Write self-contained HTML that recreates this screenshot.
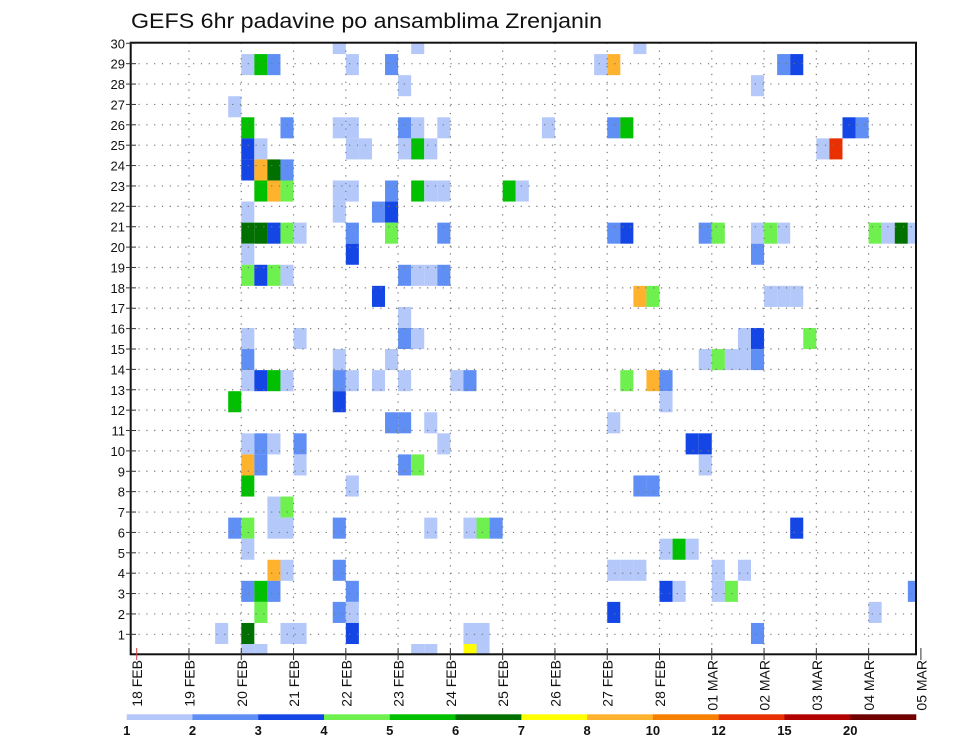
<!DOCTYPE html>
<html><head><meta charset="utf-8"><style>
html,body{margin:0;padding:0;background:#fff;}
svg{display:block;font-family:"Liberation Sans",sans-serif;}
</style></head><body>
<svg id="chart" width="960" height="742" viewBox="0 0 960 742" xmlns="http://www.w3.org/2000/svg">
<rect width="960" height="742" fill="#fff"/>
<text x="131" y="28" font-size="21" textLength="471" lengthAdjust="spacingAndGlyphs" fill="#111">GEFS 6hr padavine po ansamblima Zrenjanin</text>
<g id="cells"></g>
<g id="grid"></g>
<g id="axes"></g>
<g id="legend"></g>
</svg>
<script>
const memberIds = [29,28,27,26,25,24,23,22,21,20,19,18,17,16,15,14,13,12,11,10,9,8,7,6,5,4,3,2,1,0];
const stepsByMember = [
 [15,21,38],
 [8,9,10,16,19,35,36,49,50],
 [20,47],
 [7],
 [8,11,15,16,20,21,23,31,36,37,54,55],
 [8,9,16,17,20,21,22,52,53],
 [8,9,10,11],
 [9,10,11,15,16,19,21,22,23,28,29],
 [8,15,18,19],
 [8,9,10,11,12,16,19,23,36,37,43,44,47,48,49,56,57,58,59],
 [8,16,47],
 [8,9,10,11,20,21,22,23],
 [18,38,39,48,49,50],
 [20],
 [8,12,20,21,46,47,51],
 [8,15,19,43,44,45,46,47],
 [8,9,10,11,15,16,18,20,24,25,37,39,40],
 [7,15,40],
 [19,20,22,36],
 [8,9,10,12,23,42,43],
 [8,9,12,20,21,43],
 [8,16,38,39],
 [10,11],
 [7,8,10,11,15,22,25,26,27,50],
 [8,40,41,42],
 [10,11,15,36,37,38,44,46],
 [8,9,10,16,40,41,44,45,59],
 [9,15,16,36,56],
 [6,8,11,12,16,25,26,47],
 [8,9,21,22,25,26]
];
const valuesByMember = [
 [1.5,1.5,1.5],
 [1.5,5.5,2.5,1.5,2.5,1.5,9,2.5,3.5],
 [1.5,1.5],
 [1.5],
 [5.5,2.5,1.5,1.5,2.5,1.5,1.5,1.5,2.5,5.5,3.5,2.5],
 [3.5,1.5,1.5,1.5,1.5,5.5,1.5,1.5,13],
 [3.5,9,6.5,2.5],
 [5.5,9,4.5,1.5,1.5,2.5,5.5,1.5,1.5,5.5,1.5],
 [1.5,1.5,2.5,3.5],
 [6.5,6.5,3.5,4.5,1.5,2.5,4.5,2.5,2.5,3.5,2.5,4.5,1.5,4.5,1.5,4.5,1.5,6.5,1.5],
 [1.5,3.5,2.5],
 [4.5,3.5,4.5,1.5,2.5,1.5,1.5,2.5],
 [3.5,9,4.5,1.5,1.5,1.5],
 [1.5],
 [1.5,1.5,2.5,1.5,1.5,3.5,4.5],
 [2.5,1.5,1.5,1.5,4.5,1.5,1.5,2.5],
 [1.5,3.5,5.5,1.5,2.5,1.5,1.5,1.5,1.5,2.5,4.5,9,2.5],
 [5.5,3.5,1.5],
 [2.5,2.5,1.5,1.5],
 [1.5,2.5,1.5,2.5,1.5,3.5,3.5],
 [9,2.5,1.5,2.5,4.5,1.5],
 [5.5,1.5,2.5,2.5],
 [1.5,4.5],
 [2.5,4.5,1.5,1.5,2.5,1.5,1.5,4.5,2.5,3.5],
 [1.5,1.5,5.5,1.5],
 [9,1.5,2.5,1.5,1.5,1.5,1.5,1.5],
 [2.5,5.5,2.5,2.5,3.5,1.5,1.5,4.5,2.5],
 [4.5,2.5,1.5,3.5,1.5],
 [1.5,6.5,1.5,1.5,3.5,1.5,1.5,2.5],
 [1.5,1.5,1.5,1.5,7.5,1.5]
];
const yTickLabels = [1,2,3,4,5,6,7,8,9,10,11,12,13,14,15,16,17,18,19,20,21,22,23,24,25,26,27,28,29,30];
const xTickLabels = ["18 FEB","19 FEB","20 FEB","21 FEB","22 FEB","23 FEB","24 FEB","25 FEB","26 FEB","27 FEB","28 FEB","01 MAR","02 MAR","03 MAR","04 MAR","05 MAR"];
const levelLabels = ["1","2","3","4","5","6","7","8","10","12","15","20"];
const levelBounds = [1,2,3,4,5,6,7,8,10,12,15,20];
const levelColors = ["#b4c8fa","#5f8ff5","#1446e6","#6ef04e","#00c000","#007000","#ffff00","#ffb22e","#f88000","#e83000","#b00000","#700000"];

const NS="http://www.w3.org/2000/svg";
const PL=130.7, PR=916, PT=42.7, PB=654.3;
const X0=136.7, DAY=52.28, STEP=DAY/4;
function xStep(k){return X0+k*STEP;}
function xDay(d){return X0+d*DAY;}
function yRow(r){return 654.7-20.38*r;}
function yCellTop(i){return 665.1-21.07*(i+1);}
function yCellBot(i){return 665.1-21.07*i;}
function colorFor(v){let c=null;for(let j=0;j<levelBounds.length;j++){if(v>=levelBounds[j])c=levelColors[j];}return c;}
function mk(tag,attrs,parent){const e=document.createElementNS(NS,tag);for(const a in attrs)e.setAttribute(a,attrs[a]);parent.appendChild(e);return e;}

const cells=document.getElementById('cells');
memberIds.forEach((m,ri)=>{
  stepsByMember[ri].forEach((k,ci)=>{
    const v=valuesByMember[ri][ci];
    const x1=Math.max(PL,xStep(k)), x2=Math.min(PR,xStep(k+1));
    const y1=Math.max(PT,yCellTop(m)), y2=Math.min(PB,yCellBot(m));
    if(x2<=x1||y2<=y1)return;
    const r=mk('rect',{x:x1.toFixed(2),y:y1.toFixed(2),width:(x2-x1).toFixed(2),height:(y2-y1).toFixed(2),fill:colorFor(v)},cells);
    
    
  });
});

const grid=document.getElementById('grid');
yTickLabels.forEach(r=>{
  if(r>=30)return;
  const l=mk('line',{x1:PL,x2:PR,y1:yRow(r),y2:yRow(r),stroke:'#777','stroke-width':1.2,'stroke-dasharray':'1.2,6.6'},grid);
  
  
});
xTickLabels.forEach((t,d)=>{
  if(d===0||d===xTickLabels.length-1)return;
  const l=mk('line',{x1:xDay(d),x2:xDay(d),y1:PT,y2:PB,stroke:'#777','stroke-width':1.2,'stroke-dasharray':'1.2,6.6'},grid);
  
  
});

const axes=document.getElementById('axes');
const frame=mk('rect',{x:PL,y:PT,width:PR-PL,height:PB-PT,fill:'none',stroke:'#111','stroke-width':2},axes);


yTickLabels.forEach(r=>{
  const y=yRow(r);
  const tk=mk('line',{x1:126,x2:136,y1:y,y2:y,stroke:'#333','stroke-width':1},axes);
  
  
  const t=mk('text',{x:125,y:y+5,'font-size':13,'text-anchor':'end',fill:'#111'},axes);
  t.textContent=r;
  
  
});
xTickLabels.forEach((s,d)=>{
  const x=xDay(d);
  const tk=mk('line',{x1:x,x2:x,y1:648,y2:660,stroke:d===0?'#d04040':'#333','stroke-width':1},axes);
  
  
  const t=mk('text',{x:0,y:0,'font-size':14,'text-anchor':'end',fill:'#111',transform:'translate('+(x+5.5)+',660) rotate(-90)'},axes);
  t.textContent=s;
  
  
});

const legend=document.getElementById('legend');
const LX=126.7, LW=(916-126.7)/levelColors.length;
levelColors.forEach((c,j)=>{
  const r=mk('rect',{x:(LX+j*LW).toFixed(2),y:714.3,width:(LW+0.3).toFixed(2),height:5.7,fill:c},legend);
  
  
});
levelLabels.forEach((s,j)=>{
  const t=mk('text',{x:(LX+j*LW).toFixed(2),y:735,'font-size':13,'font-weight':'bold','text-anchor':'middle',fill:'#111'},legend);
  t.textContent=s;
  
  
});
</script>
</body></html>
